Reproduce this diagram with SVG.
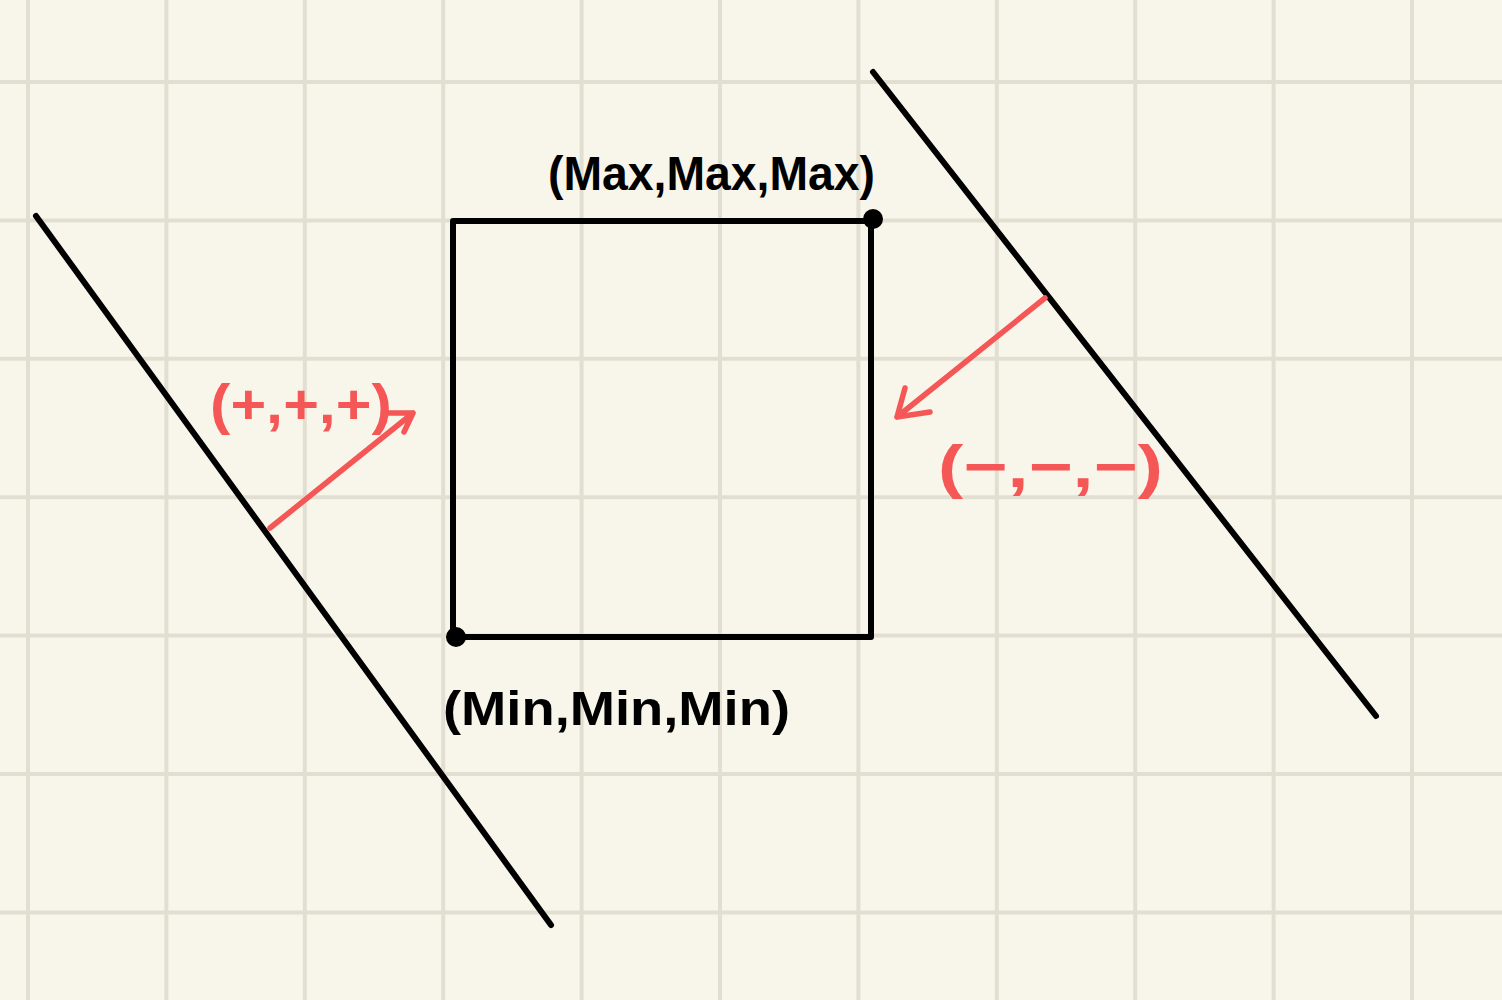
<svg xmlns="http://www.w3.org/2000/svg" width="1502" height="1000" viewBox="0 0 1502 1000">
<style>
.grid line{stroke:#e2dfd2;stroke-width:4}
.blk{stroke:#000;stroke-width:6;fill:none;stroke-linecap:round;stroke-linejoin:round}
.red{stroke:#f55656;stroke-width:5.5;fill:none;stroke-linecap:round;stroke-linejoin:round}
.lb{font-family:"Liberation Sans",Arial,sans-serif;font-weight:bold;fill:#000}
.lr{font-family:"Liberation Sans",Arial,sans-serif;font-weight:bold;fill:#f55656}
</style>
<rect width="1502" height="1000" fill="#f8f6ea"/>
<g class="grid">
<line x1="28" y1="0" x2="28" y2="1000"/><line x1="166.4" y1="0" x2="166.4" y2="1000"/><line x1="304.8" y1="0" x2="304.8" y2="1000"/><line x1="443.2" y1="0" x2="443.2" y2="1000"/><line x1="581.6" y1="0" x2="581.6" y2="1000"/><line x1="720" y1="0" x2="720" y2="1000"/><line x1="858.4" y1="0" x2="858.4" y2="1000"/><line x1="996.8" y1="0" x2="996.8" y2="1000"/><line x1="1135.2" y1="0" x2="1135.2" y2="1000"/><line x1="1273.6" y1="0" x2="1273.6" y2="1000"/><line x1="1412" y1="0" x2="1412" y2="1000"/>
<line x1="0" y1="82" x2="1502" y2="82"/><line x1="0" y1="220.4" x2="1502" y2="220.4"/><line x1="0" y1="358.8" x2="1502" y2="358.8"/><line x1="0" y1="497.2" x2="1502" y2="497.2"/><line x1="0" y1="635.6" x2="1502" y2="635.6"/><line x1="0" y1="774" x2="1502" y2="774"/><line x1="0" y1="912.4" x2="1502" y2="912.4"/>
</g>
<g id="planes">
<line class="blk" x1="36" y1="216" x2="551" y2="925"/>
<line class="blk" x1="873" y1="72" x2="1376" y2="716"/>
</g>
<g id="box">
<rect class="blk" x="453" y="221" width="418" height="416"/>
<circle cx="873" cy="219" r="10" fill="#000"/>
<circle cx="456" cy="637" r="10" fill="#000"/>
</g>
<g id="connectors">
<path class="red" d="M270 528 L413 413 M384 413 L413 413 L404 432"/>
<path class="red" d="M1045 298 L897 417 M905 388 L897 417 L930 412"/>
</g>
<g id="labels">
<text class="lb" x="548" y="190" font-size="48" textLength="327" lengthAdjust="spacingAndGlyphs">(Max,Max,Max)</text>
<text class="lb" x="443" y="725" font-size="48" textLength="347" lengthAdjust="spacingAndGlyphs">(Min,Min,Min)</text>
<text class="lr" x="210" y="423" font-size="56" textLength="182" lengthAdjust="spacingAndGlyphs">(+,+,+)</text>
<text class="lr" x="938" y="487" font-size="60" textLength="225" lengthAdjust="spacingAndGlyphs">(−,−,−)</text>
</g>
</svg>
